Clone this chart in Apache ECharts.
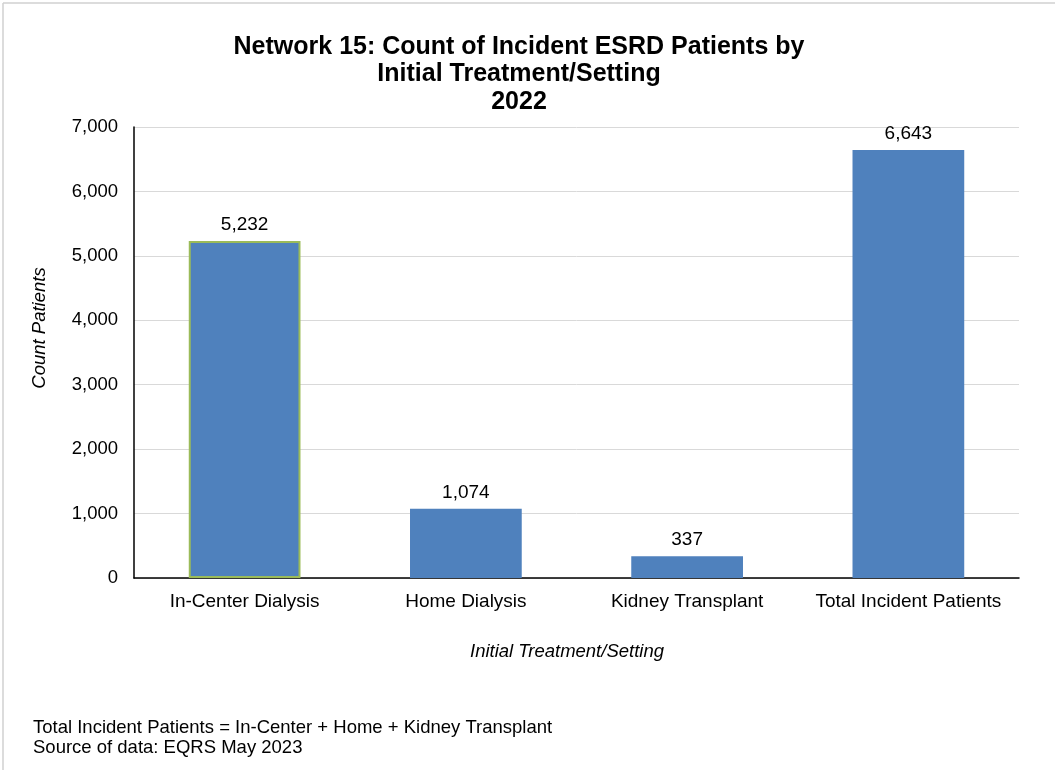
<!DOCTYPE html>
<html>
<head>
<meta charset="utf-8">
<script src="https://cdn.jsdelivr.net/npm/echarts@6/dist/echarts.min.js"></script>
<style>
html, body { margin: 0; padding: 0; background: #fff; }
#chart { width: 1055px; height: 770px; }
</style>
</head>
<body>
<div id="chart"></div>
<script>
var categories = ['In-Center Dialysis', 'Home Dialysis', 'Kidney Transplant', 'Total Incident Patients'];
var patientCounts = [5232, 1074, 337, 6643];
var footnotes = ['Total Incident Patients = In-Center + Home + Kidney Transplant', 'Source of data: EQRS May 2023'];

var chart = echarts.init(document.getElementById('chart'));
var font = 'Liberation Sans, Arial, sans-serif';

var barData = patientCounts.map(function (v, i) {
	var item = { value: v };
	// first bar has a green outline in the original
	if (i == 0) item.itemStyle = { borderColor: '#9BBB59', borderWidth: 2 };
	return item;
});

chart.setOption({
	animation: false,
	textStyle: { fontFamily: font },
	title: {
		text: 'Network 15: Count of Incident ESRD Patients by\nInitial Treatment/Setting\n2022',
		left: 514,
		top: 28,
		textAlign: 'center',
		textStyle: { fontSize: 25, fontWeight: 'bold', color: '#000', lineHeight: 27.5, fontFamily: font }
	},
	grid: { left: 134, right: 36, top: 127, bottom: 192 },
	xAxis: {
		type: 'category',
		data: categories,
		axisLine: { lineStyle: { color: '#000', width: 1.5 } },
		axisTick: { show: false },
		axisLabel: { fontSize: 19, color: '#000', margin: 14, interval: 0 }
	},
	yAxis: {
		type: 'value',
		min: 0,
		max: 7000,
		interval: 1000,
		axisLine: { show: true, lineStyle: { color: '#000', width: 1.5 } },
		axisTick: { show: false },
		axisLabel: {
			fontSize: 18.5, color: '#000', margin: 16,
			formatter: function (v) { return v.toLocaleString('en-US'); }
		},
		splitLine: { lineStyle: { color: '#d9d9d9', width: 1 } }
	},
	series: [{
		type: 'bar',
		data: barData,
		barWidth: '50.5%',
		itemStyle: { color: '#4F81BD' },
		label: {
			show: true,
			position: 'top',
			distance: 7,
			fontSize: 19,
			color: '#000',
			formatter: function (p) { return p.value.toLocaleString('en-US'); }
		}
	}],
	graphic: [
		{ type: 'line', shape: { x1: 3, y1: 3, x2: 1055, y2: 3 }, style: { stroke: '#d0d0d0', lineWidth: 1.5 } },
		{ type: 'line', shape: { x1: 3, y1: 3, x2: 3, y2: 770 }, style: { stroke: '#d0d0d0', lineWidth: 1.5 } },
		{
			type: 'text', x: 40, y: 328, rotation: Math.PI / 2,
			style: { text: 'Count Patients', fontSize: 18.5, fontStyle: 'italic', fill: '#000', fontFamily: font, align: 'center', verticalAlign: 'middle' }
		},
		{
			type: 'text', x: 567, y: 652,
			style: { text: 'Initial Treatment/Setting', fontSize: 18.5, fontStyle: 'italic', fill: '#000', fontFamily: font, align: 'center', verticalAlign: 'middle' }
		},
		{
			type: 'text', left: 33, top: 718,
			style: { text: footnotes.join('\n'), fontSize: 18.5, lineHeight: 20, fill: '#000', fontFamily: font }
		}
	]
});
</script>
</body>
</html>
